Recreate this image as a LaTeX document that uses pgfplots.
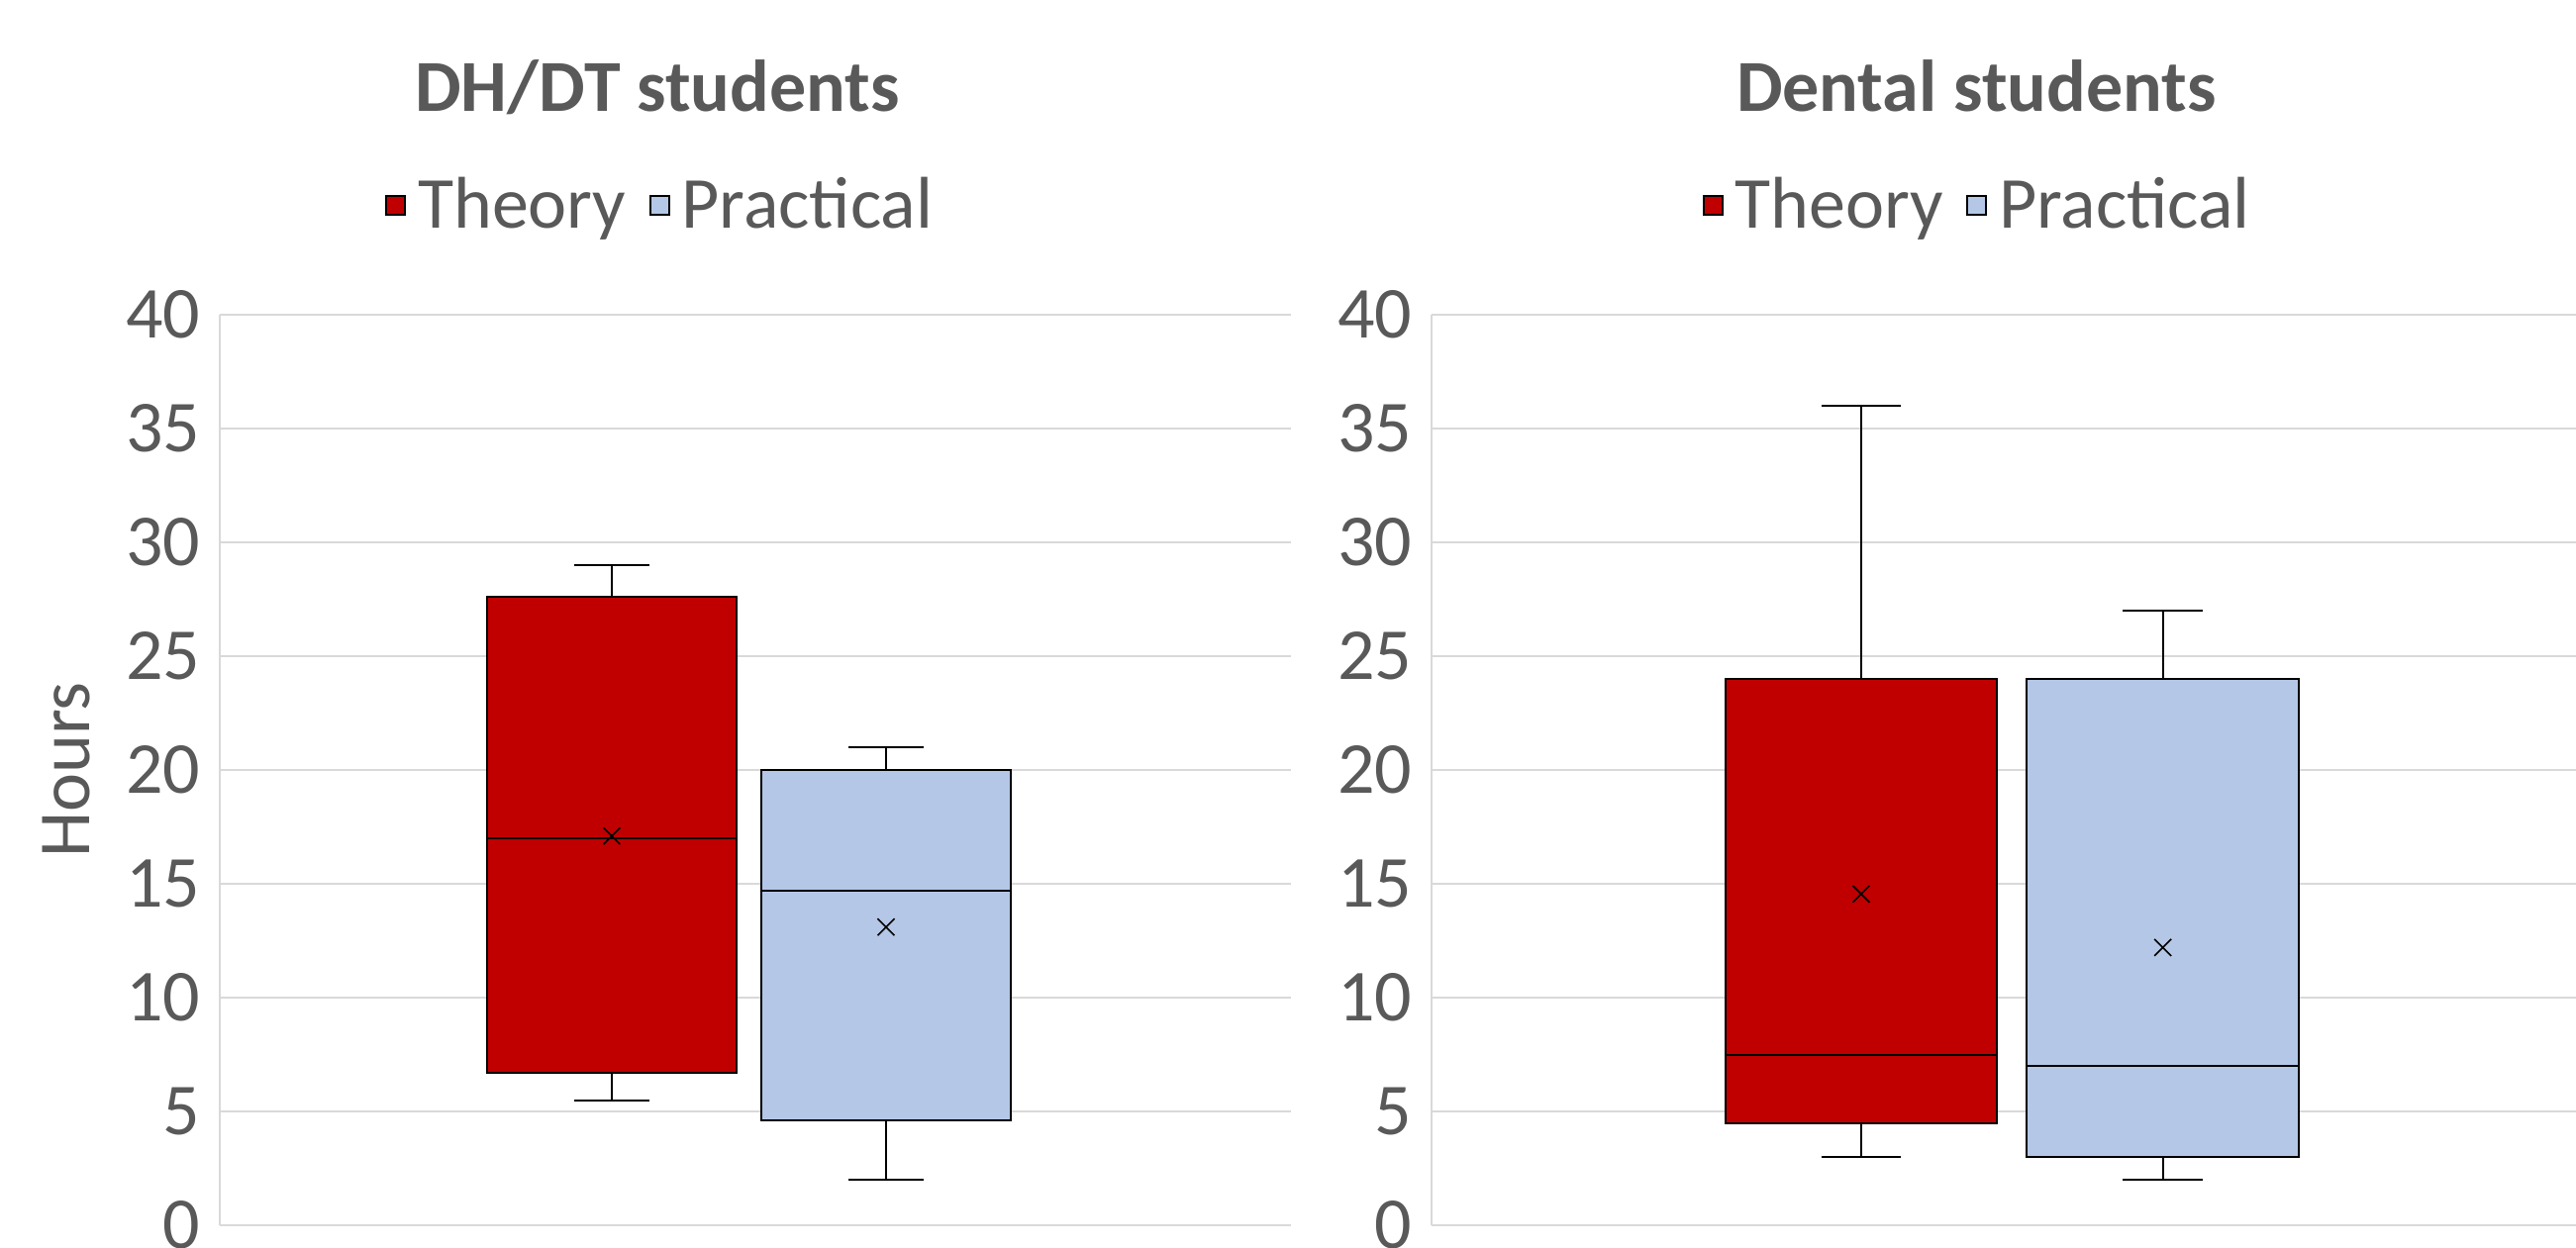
\documentclass[border=0pt]{standalone}
\usepackage{fontspec}
\setmainfont{Carlito}
\usepackage{pgfplots}
\pgfplotsset{compat=1.18}
\usepgfplotslibrary{statistics}

\definecolor{txt}{HTML}{595959}
\definecolor{gridc}{HTML}{D9D9D9}
\definecolor{theory}{HTML}{C00000}
\definecolor{practical}{HTML}{B4C7E7}

\newcommand{\chartfont}{\fontsize{18.5}{22}\selectfont}

\pgfplotsset{
  panel/.style={
    scale only axis,
    height=230pt,
    xmin=0, xmax=1, ymin=0, ymax=40,
    ytick={0,5,...,40},
    xtick=\empty,
    axis lines*=left,
    axis line style={gridc, line width=0.4pt},
    ymajorgrids,
    grid style={gridc, line width=0.4pt},
    major tick length=0pt,
    /pgf/number format/assume math mode=true,
    tick label style={font=\chartfont, text=txt},
    yticklabel style={inner sep=0pt, xshift=-4.75pt},
    clip=false,
    boxplot/draw direction=y,
    title style={font=\bfseries\chartfont, text=txt, anchor=base, inner sep=0pt},
    legend columns=2,
    legend image code/.code={\draw[##1, line width=0.5pt] (0pt,-2.4pt) rectangle (4.75pt,2.4pt);},
    legend style={draw=none, fill=none, font=\chartfont, text=txt,
      anchor=center, inner sep=0pt,
      nodes={inner sep=0pt},
      /tikz/every odd column/.append style={column sep=3pt},
      /tikz/every even column/.append style={column sep=5.75pt}},
  },
  bx/.style={draw=black, line width=0.5pt, forget plot},
  mn/.style={only marks, mark=x, mark size=3pt, black, line width=0.4pt, forget plot},
}

\begin{document}
\begin{tikzpicture}
\useasboundingbox (0,0) rectangle (650.5pt,-315.25pt);

% DH/DT students
\begin{axis}[panel,
  at={(55.5pt,-309.5pt)}, anchor=south west,
  width=270.5pt,
  title={DH/DT students},
  title style={at={(axis description cs:0.4085,1.197)}},
  ylabel={Hours},
  ylabel style={font=\chartfont, text=txt, inner sep=0pt,
    at={(axis description cs:-0.1433,0.5)}, anchor=center},
  legend style={at={(axis description cs:0.410,1.12)}},
]
\addlegendimage{fill=theory, draw=black}
\addlegendentry{Theory}
\addlegendimage{fill=practical, draw=black}
\addlegendentry{Practical}

\addplot[bx, fill=theory, boxplot prepared={
  lower whisker=5.5, lower quartile=6.7, median=17,
  upper quartile=27.6, upper whisker=29,
  draw position=0.366, box extend=0.232, whisker extend=0.07}]
  coordinates {};
\addplot[bx, fill=practical, boxplot prepared={
  lower whisker=2, lower quartile=4.6, median=14.7,
  upper quartile=20, upper whisker=21,
  draw position=0.622, box extend=0.233, whisker extend=0.07}]
  coordinates {};
\addplot[mn] coordinates {(0.366,17.1) (0.622,13.1)};
\end{axis}

% Dental students
\begin{axis}[panel,
  at={(361.5pt,-309.5pt)}, anchor=south west,
  width=289pt,
  title={Dental students},
  title style={at={(axis description cs:0.476,1.197)}},
  legend style={at={(axis description cs:0.476,1.12)}},
]
\addlegendimage{fill=theory, draw=black}
\addlegendentry{Theory}
\addlegendimage{fill=practical, draw=black}
\addlegendentry{Practical}

\addplot[bx, fill=theory, boxplot prepared={
  lower whisker=3, lower quartile=4.5, median=7.5,
  upper quartile=24, upper whisker=36,
  draw position=0.3754, box extend=0.237, whisker extend=0.07}]
  coordinates {};
\addplot[bx, fill=practical, boxplot prepared={
  lower whisker=2, lower quartile=3, median=7,
  upper quartile=24, upper whisker=27,
  draw position=0.639, box extend=0.238, whisker extend=0.07}]
  coordinates {};
\addplot[mn] coordinates {(0.3754,14.55) (0.639,12.2)};
\end{axis}
\end{tikzpicture}
\end{document}
